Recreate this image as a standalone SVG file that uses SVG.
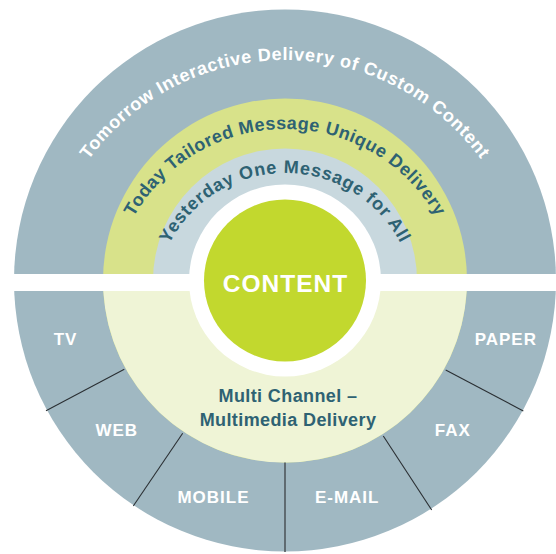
<svg xmlns="http://www.w3.org/2000/svg" xmlns:xlink="http://www.w3.org/1999/xlink" width="556" height="554" viewBox="0 0 556 554">
  <style>
    text { font-family: "Liberation Sans", Arial, sans-serif; font-weight: bold; }
    .seg { fill: #ffffff; font-size: 17px; letter-spacing: 1px; text-anchor: middle; }
    .arc { font-size: 18px; text-anchor: middle; }
    .arc-w { fill: #ffffff; }
    .arc-d { fill: #2e6273; }
    .mc { fill: #2e6273; font-size: 18px; letter-spacing: 0.4px; text-anchor: middle; }
    .div { stroke: #2a2f33; stroke-width: 1.1; fill: none; }
  </style>
  <defs>
    <path id="p-outer" d="M 42 303 A 243 243 0 0 1 528 303"/>
    <path id="p-today" d="M 111 303 A 174 174 0 0 1 459 303"/>
    <path id="p-yest" d="M 155 303 A 130 130 0 0 1 415 303"/>
  </defs>
  <rect x="0" y="0" width="556" height="554" fill="#ffffff"/>

  <g id="tomorrow-ring">
    <circle cx="285" cy="280.5" r="271" fill="#a0b8c2"/>
  </g>
  <g id="today-ring">
    <circle cx="285" cy="280.5" r="182" fill="#d8e28a"/>
  </g>
  <g id="yesterday-ring">
    <circle cx="285" cy="280.5" r="132" fill="#c8d8de"/>
  </g>
  <g id="band">
    <rect x="0" y="274" width="556" height="17" fill="#ffffff"/>
  </g>
  <g id="multichannel">
    <path d="M 103.3 291 L 466.7 291 A 182 182 0 0 1 103.3 291 Z" fill="#eff4d6"/>
    <text class="mc" x="288" y="401.7">Multi Channel –</text>
    <text class="mc" x="288" y="426">Multimedia Delivery</text>
  </g>
  <g id="content">
    <circle cx="285" cy="280.5" r="96" fill="#ffffff"/>
    <circle cx="285" cy="280.5" r="81" fill="#c2d82e"/>
    <text x="285.5" y="291.7" fill="#ffffff" font-size="24.5" letter-spacing="1" text-anchor="middle">CONTENT</text>
  </g>

  <g id="tomorrow-label">
    <text class="arc arc-w" letter-spacing="0.7"><textPath xlink:href="#p-outer" href="#p-outer" startOffset="50%">Tomorrow Interactive Delivery of Custom Content</textPath></text>
  </g>
  <g id="today-label">
    <text class="arc arc-d" letter-spacing="0.5"><textPath xlink:href="#p-today" href="#p-today" startOffset="50%">Today Tailored Message Unique Delivery</textPath></text>
  </g>
  <g id="yesterday-label">
    <text class="arc arc-d" letter-spacing="0.8"><textPath xlink:href="#p-yest" href="#p-yest" startOffset="50%">Yesterday One Message for All</textPath></text>
  </g>

  <g id="connectors">
    <line class="div" x1="124.3" y1="369.3" x2="46" y2="410.7"/>
    <line class="div" x1="182.7" y1="433.3" x2="133.3" y2="506"/>
    <line x1="285" y1="462.5" x2="285" y2="552" stroke="#4f575c" stroke-width="1.6"/>
    <line class="div" x1="383.3" y1="436" x2="431.7" y2="510"/>
    <line class="div" x1="445.7" y1="370" x2="523.3" y2="411"/>
  </g>

  <g id="tv"><text class="seg" x="65.5" y="345">TV</text></g>
  <g id="paper"><text class="seg" x="505.8" y="345">PAPER</text></g>
  <g id="web"><text class="seg" x="116.8" y="435.7">WEB</text></g>
  <g id="fax"><text class="seg" x="452.8" y="435.7">FAX</text></g>
  <g id="mobile"><text class="seg" x="213.5" y="503.3">MOBILE</text></g>
  <g id="email"><text class="seg" x="347.2" y="503.3">E-MAIL</text></g>
</svg>
